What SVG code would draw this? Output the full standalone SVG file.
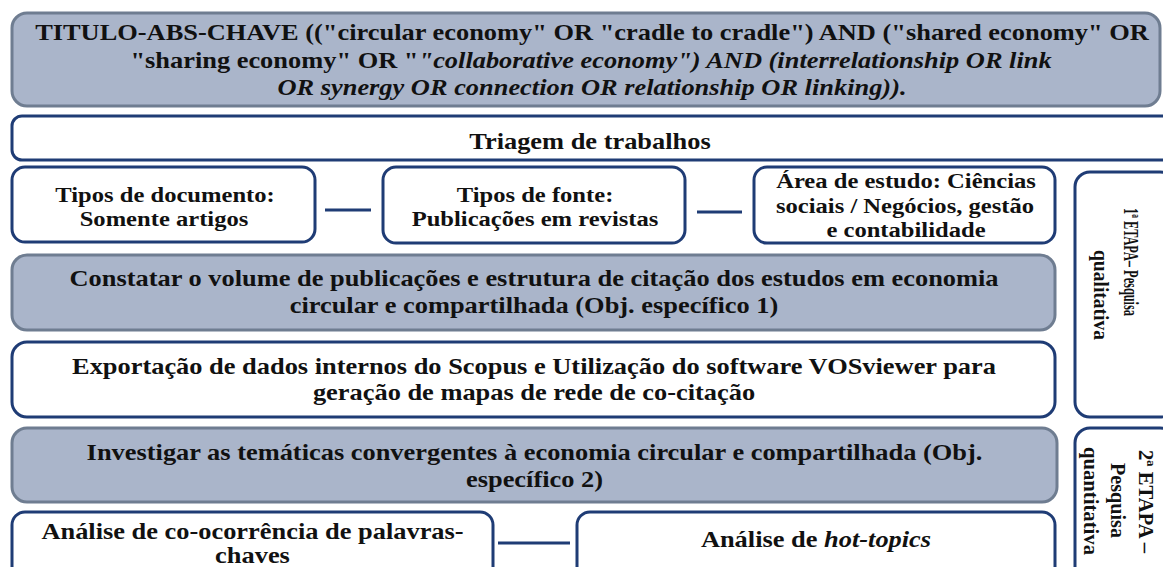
<svg xmlns="http://www.w3.org/2000/svg" width="1163" height="567" viewBox="0 0 1163 567">
<style>
.g{fill:#aab5ca;stroke:#6f7d91;stroke-width:3}
.w{fill:#ffffff;stroke:#1f3c75;stroke-width:3}
.t{font-family:'Liberation Serif','Times New Roman',serif;font-weight:bold;font-size:23px;fill:#111;text-anchor:middle}
.s{font-size:21px}
.v{font-family:'Liberation Serif','Times New Roman',serif;font-weight:bold;font-size:21px;fill:#111}
.i{font-style:italic}
.c{stroke:#1f3c75;stroke-width:3;fill:none}
</style>
<rect width="1163" height="567" fill="#ffffff"/>
<g id="query">
<rect class="g" x="12" y="13" width="1148" height="93" rx="15"/>
<text class="t" transform="translate(592,40) scale(1.148,1)">TITULO-ABS-CHAVE (("circular economy" OR "cradle to cradle") AND ("shared economy" OR</text>
<text class="t" transform="translate(591,68) scale(1.148,1)">"sharing economy" OR "<tspan class="i">"collaborative economy") AND (interrelationship OR link</tspan></text>
<text class="t i" transform="translate(592,95) scale(1.148,1)">OR synergy OR connection OR relationship OR linking)).</text>
</g>
<g id="triagem">
<rect class="w" x="12" y="116" width="1170" height="44" rx="10"/>
<text class="t" transform="translate(590,149) scale(1.148,1)">Triagem de trabalhos</text>
</g>
<g id="tipos-documento">
<rect class="w" x="12" y="167" width="303" height="75" rx="13"/>
<text class="t s" transform="translate(165,202) scale(1.171,1)">Tipos de documento:</text>
<text class="t s" transform="translate(164,226) scale(1.171,1)">Somente artigos</text>
</g>
<g id="tipos-fonte">
<rect class="w" x="383" y="167" width="302" height="76" rx="13"/>
<text class="t s" transform="translate(535,202) scale(1.171,1)">Tipos de fonte:</text>
<text class="t s" transform="translate(535,226) scale(1.171,1)">Publicações em revistas</text>
</g>
<g id="area-estudo">
<rect class="w" x="754" y="167" width="301" height="76" rx="13"/>
<text class="t s" transform="translate(906,188) scale(1.171,1)">Área de estudo: Ciências</text>
<text class="t s" transform="translate(905,213) scale(1.171,1)">sociais / Negócios, gestão</text>
<text class="t s" transform="translate(906,237) scale(1.171,1)">e contabilidade</text>
</g>
<g id="objetivo-1">
<rect class="g" x="12" y="255" width="1043" height="75" rx="15"/>
<text class="t" transform="translate(534,286) scale(1.148,1)">Constatar o volume de publicações e estrutura de citação dos estudos em economia</text>
<text class="t" transform="translate(534,313) scale(1.148,1)">circular e compartilhada (Obj. específico 1)</text>
</g>
<g id="exportacao">
<rect class="w" x="12" y="342" width="1043" height="75" rx="15"/>
<text class="t" transform="translate(534,374) scale(1.148,1)">Exportação de dados internos do Scopus e Utilização do software VOSviewer para</text>
<text class="t" transform="translate(534,400) scale(1.148,1)">geração de mapas de rede de co-citação</text>
</g>
<g id="objetivo-2">
<rect class="g" x="12" y="428" width="1045" height="74" rx="15"/>
<text class="t" transform="translate(534.5,460) scale(1.148,1)">Investigar as temáticas convergentes à economia circular e compartilhada (Obj.</text>
<text class="t" transform="translate(534.5,487) scale(1.148,1)">específico 2)</text>
</g>
<g id="coocorrencia">
<rect class="w" x="12" y="512" width="481" height="70" rx="13"/>
<text class="t" transform="translate(252.5,539) scale(1.148,1)">Análise de co-ocorrência de palavras-</text>
<text class="t" transform="translate(252.5,563) scale(1.148,1)">chaves</text>
</g>
<g id="hot-topics">
<rect class="w" x="577" y="512" width="478" height="70" rx="13"/>
<text class="t" transform="translate(816,547) scale(1.148,1)">Análise de <tspan class="i">hot-topics</tspan></text>
</g>
<g id="etapa-1">
<rect class="w" x="1075" y="172" width="100" height="245" rx="15"/>
<text class="v" transform="translate(1124,208) rotate(90)" textLength="108" lengthAdjust="spacingAndGlyphs">1ª ETAPA– Pesquisa</text>
<text class="v" transform="translate(1094,250) rotate(90)" textLength="90" lengthAdjust="spacingAndGlyphs">qualitativa</text>
</g>
<g id="etapa-2">
<rect class="w" x="1075" y="428" width="100" height="160" rx="15"/>
<text class="v" transform="translate(1139,450) rotate(90)" textLength="103" lengthAdjust="spacingAndGlyphs">2ª ETAPA –</text>
<text class="v" transform="translate(1111,463) rotate(90)" textLength="75" lengthAdjust="spacingAndGlyphs">Pesquisa</text>
<text class="v" transform="translate(1084,447) rotate(90)" textLength="108" lengthAdjust="spacingAndGlyphs">quantitativa</text>
</g>
<g id="connectors">
<line class="c" x1="325" y1="210" x2="371" y2="210"/>
<line class="c" x1="697" y1="212" x2="742" y2="212"/>
<line class="c" x1="498" y1="543" x2="570" y2="543"/>
</g>
</svg>
